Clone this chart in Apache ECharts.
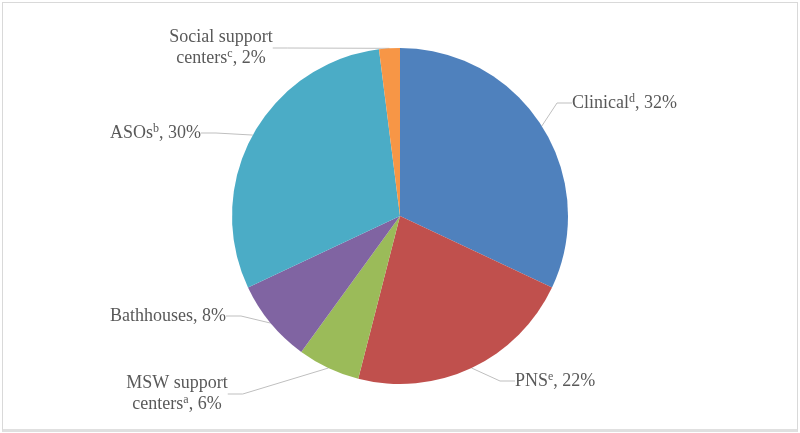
<!DOCTYPE html>
<html>
<head>
<meta charset="utf-8">
<script src="https://cdn.jsdelivr.net/npm/echarts@6/dist/echarts.min.js"></script>
<style>
html,body{margin:0;padding:0;background:#fff;}
#frame{position:absolute;left:2px;top:2px;width:794px;height:426px;border:1px solid #d9d9d9;border-bottom:3px solid #e0e0e0;box-sizing:content-box;}
#c{position:absolute;left:0;top:0;width:800px;height:433px;}
</style>
</head>
<body>
<div id="frame"></div>
<div id="c"></div>
<script>
const categories = ['Clinical', 'PNS', 'MSW support centers', 'Bathhouses', 'ASOs', 'Social support centers'];
const values = [32, 22, 6, 8, 30, 2];
const superscripts = ['d', 'e', 'a', '', 'b', 'c'];
const colors = ['#4F81BD', '#C0504D', '#9BBB59', '#8064A2', '#4BACC6', '#F79646'];

function labelText(i) {
  const name = categories[i];
  const sup = superscripts[i] ? '{sup|' + superscripts[i] + '}' : '';
  const pct = ', ' + values[i] + '%';
  if (name === 'MSW support centers') return '{t|MSW support}\n{t|centers}' + sup + '{t|' + pct + '}';
  if (name === 'Social support centers') return '{t|Social support}\n{t|centers}' + sup + '{t|' + pct + '}';
  return '{t|' + name + '}' + sup + '{t|' + pct + '}';
}

// label anchor positions (layout only)
const labelPos = [
  {x: 572, y: 103, align: 'left'},
  {x: 515, y: 381, align: 'left'},
  {x: 177, y: 394, align: 'center'},
  {x: 110, y: 316, align: 'left'},
  {x: 110, y: 133, align: 'left'},
  {x: 221, y: 48, align: 'center'}
];

const chart = echarts.init(document.getElementById('c'), null, {renderer: 'canvas'});
chart.setOption({
  animation: false,
  series: [{
    type: 'pie',
    center: [400, 216],
    radius: 168,
    startAngle: 90,
    clockwise: true,
    color: colors,
    itemStyle: {borderWidth: 0},
    data: categories.map((c, i) => ({name: c, value: values[i]})),
    label: {
      show: true,
      position: 'outside',
      formatter: p => labelText(p.dataIndex),
      color: '#595959',
      fontFamily: 'Liberation Serif',
      fontSize: 18,
      lineHeight: 21,
      rich: {
        t: {fontFamily: 'Liberation Serif', fontSize: 18, color: '#595959', lineHeight: 21},
        sup: {fontFamily: 'Liberation Serif', fontSize: 12, color: '#595959', verticalAlign: 'top', lineHeight: 21, padding: [0, 0, 3, 0]}
      }
    },
    labelLine: {show: true, lineStyle: {color: '#bfbfbf', width: 1}, length: 15, length2: 15},
    labelLayout: function (params) {
      const p = labelPos[params.dataIndex];
      return {x: p.x, y: p.y, align: p.align, verticalAlign: 'middle', moveOverlap: false, hideOverlap: false};
    }
  }]
});
</script>
</body>
</html>
